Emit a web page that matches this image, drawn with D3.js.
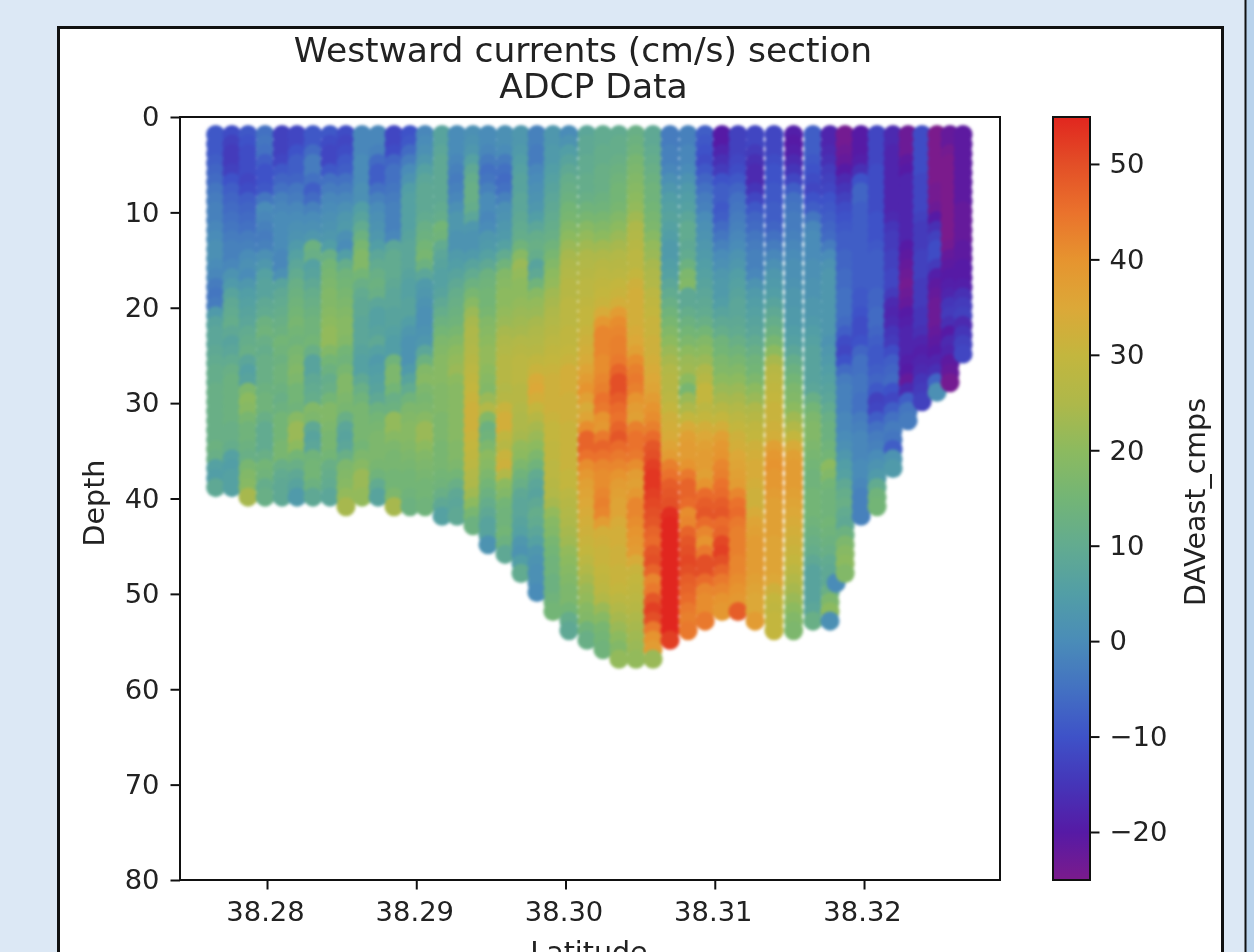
<!DOCTYPE html>
<html>
<head>
<meta charset="utf-8">
<script src="https://cdn.jsdelivr.net/npm/d3@7"></script>
<style>
  html, body { margin: 0; padding: 0; background: #dce8f5; overflow: hidden; }
  text { font-family: "DejaVu Sans", sans-serif; fill: #222; }
</style>
</head>
<body>
<div id="my_dataviz"></div>
<script>
// latitude of each ADCP profile
const latitudes = [38.27656, 38.27765, 38.27873, 38.27987, 38.28101, 38.28201, 38.28308, 38.28422, 38.28529, 38.28637,
  38.28744, 38.28851, 38.28958, 38.29059, 38.29173, 38.29273, 38.2938, 38.29481, 38.29595, 38.29702,
  38.29809, 38.29916, 38.30023, 38.30144, 38.30251, 38.30358, 38.30472, 38.30586, 38.307, 38.30821,
  38.30935, 38.31049, 38.31156, 38.3127, 38.31397, 38.31528, 38.31658, 38.31772, 38.31873, 38.3198,
  38.32087, 38.32194, 38.32295, 38.32389, 38.32489, 38.32576, 38.32663];

// first bin of every profile, bins are 1 m apart
const firstDepth = 1.85;

// DAVeast_cmps, one row per profile, top bin first
const currents = [
  [-9,-9,-9,-8,-7,-6,-4,-3,-2,-2,-1,0,1,1,0,-1,-3,-4,-3,4,7,8,8,9,10,11,11,12,12,12,12,12,12,13,12,6,5,9],
  [-11,-13,-14,-14,-13,-10,-8,-7,-6,-5,-4,-3,-2,-2,-1,2,4,7,9,10,11,9,7,8,10,12,13,13,13,13,13,12,12,11,6,5,6,6],
  [-9,-10,-11,-11,-11,-12,-11,-8,-7,-6,-5,-3,-2,0,1,0,3,5,6,7,8,10,11,12,8,6,7,17,20,19,16,14,14,13,12,16,18,19,24],
  [-5,-4,-5,-8,-10,-10,-9,-4,0,-1,-2,-3,-2,1,3,6,7,7,9,10,13,14,12,11,12,12,12,13,14,14,12,10,10,10,12,15,14,11,12],
  [-13,-13,-13,-12,-9,-7,-5,-2,-1,0,0,0,0,-1,-1,1,7,9,10,11,12,13,15,14,13,14,14,13,12,13,15,15,15,16,16,12,10,9,9],
  [-12,-12,-10,-8,-8,-7,-4,-3,-1,0,1,2,4,6,8,10,12,13,14,15,16,15,14,16,17,18,17,15,15,14,19,22,22,20,15,12,9,7,4],
  [-9,-9,-6,-3,-3,-5,-8,-6,-2,0,1,3,13,12,6,7,9,11,12,13,14,14,15,12,7,7,9,10,11,18,17,9,7,8,14,15,15,13,9],
  [-9,-11,-12,-12,-9,-5,-3,-1,0,1,2,3,5,12,15,16,17,18,18,19,20,21,21,18,15,13,11,12,15,18,18,17,16,16,15,12,11,10,8],
  [-11,-12,-11,-9,-8,-5,-3,-1,1,3,4,1,0,5,11,14,15,16,17,18,19,19,18,15,14,16,18,18,17,16,12,8,7,8,12,17,18,19,21,24],
  [-1,-1,-1,0,0,0,1,1,5,7,10,13,16,18,18,15,12,10,9,9,8,8,8,7,6,6,9,12,14,16,16,16,16,15,17,19,22,22,21],
  [-1,-1,-2,-6,-8,-8,-5,-2,0,1,2,3,5,8,10,12,13,12,8,6,6,7,9,6,4,5,6,7,9,13,15,16,17,17,17,16,14,10,7],
  [-12,-12,-11,-7,-5,-5,-4,-3,-2,-2,-2,-1,8,10,10,10,9,8,8,7,7,6,5,5,14,17,17,15,12,13,21,21,19,17,16,16,15,15,17,24],
  [-10,-9,-6,-3,0,2,5,6,6,6,6,7,8,8,8,7,6,6,7,7,5,3,2,2,2,4,7,10,14,17,18,19,19,18,17,16,15,15,14,13],
  [-1,0,1,3,6,8,9,9,9,10,12,13,15,16,13,8,4,3,2,1,1,2,3,8,13,18,19,17,16,17,19,22,22,20,18,17,16,15,15,14],
  [7,7,8,9,9,9,9,9,10,11,15,14,10,8,7,6,6,7,9,11,13,15,17,18,19,19,19,18,18,18,17,17,17,16,16,16,15,14,12,9,6],
  [0,0,0,-1,-2,-3,-2,-1,1,3,3,2,2,4,5,7,9,11,12,13,14,16,18,20,21,22,20,19,19,19,19,19,19,18,18,17,15,12,9,8,9],
  [1,2,3,6,9,11,12,12,11,8,3,2,2,4,7,10,13,16,19,22,24,25,25,26,27,28,29,30,31,32,32,32,31,30,29,28,26,25,23,20,16,13],
  [0,0,-1,-3,-5,-4,-2,0,0,-1,0,3,4,6,9,13,14,15,15,16,18,19,20,21,21,20,19,18,22,26,18,13,14,17,20,19,17,15,13,11,9,7,7,2],
  [1,1,0,-3,-5,-6,-5,-2,1,2,3,4,6,10,14,18,19,20,20,21,22,24,25,26,27,27,27,26,27,31,33,33,29,27,31,32,26,20,18,15,14,14,15,13,9],
  [3,3,4,5,6,7,7,8,8,9,10,11,14,19,22,21,20,20,21,22,23,24,26,27,28,28,28,27,27,26,25,25,24,21,20,17,14,12,9,8,8,7,6,3,2,5,10],
  [-2,-2,-3,-3,-1,0,1,2,3,5,8,11,12,11,7,9,14,19,21,22,24,25,26,27,29,31,34,35,33,30,27,24,22,20,17,14,10,8,7,9,11,10,8,6,3,2,1,1,0],
  [3,3,4,4,5,6,7,8,9,10,11,12,14,16,18,20,21,23,24,25,26,27,28,29,30,31,32,32,32,32,31,30,30,29,29,28,28,27,26,24,21,19,18,16,15,14,14,13,13,14,15],
  [0,2,5,7,9,11,12,13,15,16,18,20,22,24,25,26,27,27,28,28,28,29,29,30,31,33,33,33,32,32,32,31,31,31,31,31,30,30,28,27,26,25,24,23,21,20,19,18,17,17,15,11,9],
  [8,9,9,10,10,11,11,12,14,16,19,21,23,25,26,27,28,28,29,30,30,31,32,33,34,36,38,40,37,34,36,41,47,47,45,41,39,37,36,35,34,33,32,31,30,28,26,24,22,21,19,18,14,12],
  [10,10,11,11,12,12,12,13,14,16,18,20,23,25,27,28,29,30,31,34,39,42,42,42,41,41,42,43,45,44,40,39,44,47,45,42,41,41,42,43,42,38,33,32,31,31,30,29,28,26,22,19,16,15,14],
  [10,11,11,12,13,14,15,15,16,18,20,22,24,26,27,28,30,31,33,38,41,42,43,43,44,47,50,50,48,46,45,47,49,46,44,42,40,38,37,36,36,34,33,33,32,32,31,31,30,28,26,24,22,20,18,21],
  [12,13,14,16,17,18,19,20,21,23,25,26,27,28,28,30,32,33,33,33,33,34,35,37,41,43,44,43,40,38,37,43,45,45,44,41,38,37,39,42,42,41,40,39,38,34,31,30,29,28,27,25,24,23,22,21],
  [9,9,10,11,12,13,14,14,15,16,17,19,21,22,24,25,26,28,29,30,31,31,32,32,33,34,35,36,38,40,41,43,46,49,50,52,53,53,52,51,50,49,47,46,49,50,47,42,44,49,52,50,44,40,38,22],
  [-3,-3,-2,-2,-1,1,3,5,6,7,6,5,4,4,5,6,8,10,12,14,16,18,20,22,24,26,27,27,28,30,32,33,34,36,38,43,45,48,49,50,54,55,55,55,55,55,55,55,55,55,55,55,55,52],
  [-2,-2,-1,-1,0,2,4,5,6,8,10,10,9,10,13,17,18,9,9,11,13,15,17,20,22,23,20,16,22,25,30,34,37,38,38,40,44,47,47,46,41,42,47,49,50,51,50,48,47,46,44,43,44],
  [-8,-9,-10,-11,-9,-7,-5,-3,-2,0,1,2,3,4,5,6,7,8,9,10,12,15,18,20,22,25,27,30,30,28,30,33,35,37,38,38,37,40,46,48,49,46,42,40,44,50,50,46,42,41,41,44],
  [-20,-20,-18,-16,-14,-10,-8,-8,-9,-8,-6,-4,-2,0,1,3,4,4,5,7,9,11,14,15,17,18,20,22,24,27,30,33,37,39,40,42,43,45,46,48,49,46,47,51,52,50,47,44,42,40,39],
  [-13,-13,-13,-12,-11,-9,-7,-5,-4,-3,-2,-1,0,2,3,5,6,7,8,8,9,10,12,14,16,18,20,22,24,26,28,30,32,33,35,36,37,38,42,45,46,44,43,43,43,42,42,41,40,39,48],
  [-12,-12,-14,-16,-17,-17,-15,-12,-9,-7,-6,-4,-3,-2,-2,-1,2,4,5,6,7,8,10,12,14,15,17,20,22,25,27,29,30,32,33,34,34,33,32,32,34,36,37,38,38,38,38,37,36,35,35,38],
  [-12,-12,-12,-11,-10,-10,-9,-9,-8,-8,-7,-5,-3,-1,1,3,4,5,7,9,11,13,16,20,24,27,28,29,30,31,31,32,33,37,39,40,39,39,38,37,37,37,37,36,36,36,36,35,32,30,29,30,30],
  [-19,-20,-19,-17,-15,-12,-8,-5,-4,-3,-3,-2,-1,0,1,1,2,3,3,4,4,5,6,8,11,13,15,17,18,20,23,26,30,34,37,38,38,38,37,36,35,34,33,32,31,30,28,26,24,22,20,18,17],
  [-8,-8,-8,-9,-10,-11,-12,-10,-8,-4,-1,0,0,0,1,1,2,2,3,3,4,5,6,7,7,7,7,8,12,15,17,18,18,17,16,15,14,14,15,15,15,14,13,12,11,9,7,7,7,7,8,12],
  [-18,-18,-17,-16,-14,-13,-12,-10,-9,-8,-7,-6,-3,0,2,3,3,3,3,3,3,3,2,3,4,5,6,7,8,10,12,13,13,14,15,20,18,15,14,14,14,15,14,13,12,10,9,9,12,17,20,1],
  [-24,-24,-23,-22,-20,-17,-15,-13,-11,-10,-9,-8,-8,-7,-7,-6,-6,-5,-5,-5,-6,-8,-11,-12,-10,-6,-3,-2,-2,-2,-1,-1,0,1,3,5,6,9,11,12,10,9,13,17,19,20,18],
  [-20,-20,-20,-19,-16,-10,-7,-7,-8,-8,-8,-8,-8,-8,-8,-8,-8,-9,-9,-10,-11,-11,-10,-7,-5,-5,-4,-4,-5,-5,-3,-2,-1,-1,-1,0,0,-1,-2,-2,-2],
  [-12,-12,-12,-12,-11,-11,-11,-11,-11,-10,-10,-10,-9,-8,-8,-8,-8,-7,-7,-6,-6,-7,-8,-9,-9,-8,-7,-9,-13,-12,-8,-5,-3,-2,0,2,4,10,14,15],
  [-17,-17,-18,-18,-18,-18,-18,-18,-18,-17,-15,-14,-14,-13,-13,-12,-12,-14,-17,-18,-17,-15,-14,-11,-8,-7,-6,-10,-12,-8,-5,-3,-4,-8,2,4],
  [-23,-23,-23,-21,-20,-18,-18,-18,-18,-18,-18,-18,-20,-21,-22,-23,-24,-23,-22,-20,-19,-18,-18,-18,-19,-20,-22,-17,-8,-4,-3],
  [-11,-11,-11,-11,-11,-12,-12,-12,-12,-13,-14,-14,-14,-13,-13,-13,-14,-14,-14,-15,-15,-16,-18,-19,-18,-17,-15,-14,-13],
  [-25,-25,-25,-25,-25,-25,-24,-24,-23,-20,-16,-13,-11,-11,-14,-19,-21,-22,-23,-23,-23,-22,-21,-20,-18,-16,-7,1],
  [-22,-22,-24,-25,-25,-25,-25,-25,-25,-25,-25,-25,-24,-22,-21,-20,-19,-18,-15,-14,-16,-20,-17,-18,-21,-22,-24],
  [-21,-21,-21,-21,-21,-21,-21,-21,-22,-22,-22,-22,-21,-21,-20,-20,-19,-16,-14,-13,-17,-15,-13,-12]
];

// one stray sample near the bottom of the section
const strayLat = 38.31813;
const strayDepth = 48.85;
const strayValue = 0;

const depthTicks = [0, 10, 20, 30, 40, 50, 60, 70, 80];
const latTicks = [38.28, 38.29, 38.30, 38.31, 38.32];
const barTicks = [-20, -10, 0, 10, 20, 30, 40, 50];

// colormap stops, low to high
const cmapValues = [-25, -20, -15, -10, -5, 0, 5, 10, 15, 20, 25, 30, 35, 40, 45, 50, 55];
const cmapColors = ["#7b1b8c", "#561aa5", "#4535b8", "#3e52c8", "#4371c2", "#4a8cb8", "#529ea6", "#62ab90", "#73b576", "#8cba5f", "#aeb84a", "#c3b63e", "#dca838", "#e6942f", "#ea722c", "#e34f27", "#e1261f"];

const color = d3.scaleLinear().domain(cmapValues).range(cmapColors).clamp(true);

const svg = d3.select("#my_dataviz")
    .append("svg")
    .attr("width", 1254)
    .attr("height", 952)
    .style("display", "block")
    .style("filter", "blur(0.6px)");

// page frame
svg.append("rect").attr("x", 1246).attr("y", 0).attr("width", 8).attr("height", 952).attr("fill", "#b9d3ec");
svg.append("line").attr("x1", 1245.5).attr("x2", 1245.5).attr("y1", 0).attr("y2", 952).attr("stroke", "#111").attr("stroke-width", 2);
svg.append("rect").attr("x", 58.5).attr("y", 27.5).attr("width", 1164).attr("height", 960)
    .attr("fill", "#fff").attr("stroke", "#111").attr("stroke-width", 3);

const plot = { left: 180, right: 1000, top: 117, bottom: 880 };
const bar = { left: 1053, right: 1090 };

const xScale = d3.scaleLinear().domain([38.27417, 38.32911]).range([plot.left, plot.right]);
const yScale = d3.scaleLinear().domain([0, 80]).range([plot.top, plot.bottom]);
const barScale = d3.scaleLinear().domain([-25.03, 54.92]).range([plot.bottom, plot.top]);

// points, profile by profile so that later ones sit on top
const points = [];
currents.forEach((col, i) => {
    col.forEach((v, j) => points.push({ lat: latitudes[i], depth: firstDepth + j, value: v }));
});
points.splice(points.findIndex(d => d.lat > strayLat), 0, { lat: strayLat, depth: strayDepth, value: strayValue });

// the reference is soft, so the dots get a little blur of their own
svg.append("g")
    .style("filter", "blur(1.4px)")
    .selectAll("circle")
    .data(points)
    .join("circle")
    .attr("cx", d => xScale(d.lat))
    .attr("cy", d => yScale(d.depth))
    .attr("r", 9.6)
    .attr("fill", d => color(d.value));

// axes
function styleAxis(g) {
    g.selectAll("text").attr("font-size", 27.4);
    g.selectAll("line").attr("stroke", "#111").attr("stroke-width", 2);
    g.select(".domain").remove();
}

svg.append("g")
    .attr("transform", `translate(0, ${plot.bottom})`)
    .call(d3.axisBottom(xScale).tickValues(latTicks).tickSize(9.5).tickPadding(12).tickFormat(d3.format(".2f")))
    .call(styleAxis)
    .call(g => g.selectAll("text").attr("dx", -2));

svg.append("g")
    .attr("transform", `translate(${plot.left}, 0)`)
    .call(d3.axisLeft(yScale).tickValues(depthTicks).tickSize(9.5).tickPadding(11))
    .call(styleAxis);

svg.append("rect")
    .attr("x", plot.left).attr("y", plot.top)
    .attr("width", plot.right - plot.left).attr("height", plot.bottom - plot.top)
    .attr("fill", "none").attr("stroke", "#111").attr("stroke-width", 2);

// colorbar
const defs = svg.append("defs");
const grad = defs.append("linearGradient")
    .attr("id", "cbar").attr("x1", 0).attr("x2", 0).attr("y1", 1).attr("y2", 0);
cmapValues.forEach((v, i) => {
    grad.append("stop")
        .attr("offset", (v + 25) / 80)
        .attr("stop-color", cmapColors[i]);
});
svg.append("rect")
    .attr("x", bar.left).attr("y", plot.top)
    .attr("width", bar.right - bar.left).attr("height", plot.bottom - plot.top)
    .attr("fill", "url(#cbar)").attr("stroke", "#111").attr("stroke-width", 2);

svg.append("g")
    .attr("transform", `translate(${bar.right}, 0)`)
    .call(d3.axisRight(barScale).tickValues(barTicks).tickSize(9.5).tickPadding(10).tickFormat(d => String(d).replace("-", "\u2212")))
    .call(styleAxis);

// labels
svg.append("text")
    .attr("x", 583).attr("y", 62)
    .attr("text-anchor", "middle").attr("font-size", 34.5)
    .text("Westward currents (cm/s) section");
svg.append("text")
    .attr("x", 593.5).attr("y", 98)
    .attr("text-anchor", "middle").attr("font-size", 34.5)
    .text("ADCP Data");
svg.append("text")
    .attr("x", 589).attr("y", 962)
    .attr("text-anchor", "middle").attr("font-size", 28.5)
    .text("Latitude");
svg.append("text")
    .attr("transform", "translate(104, 503) rotate(-90)")
    .attr("text-anchor", "middle").attr("font-size", 28.5)
    .text("Depth");
svg.append("text")
    .attr("transform", "translate(1205, 502) rotate(-90)")
    .attr("text-anchor", "middle").attr("font-size", 28.5)
    .text("DAVeast_cmps");
</script>
</body>
</html>
